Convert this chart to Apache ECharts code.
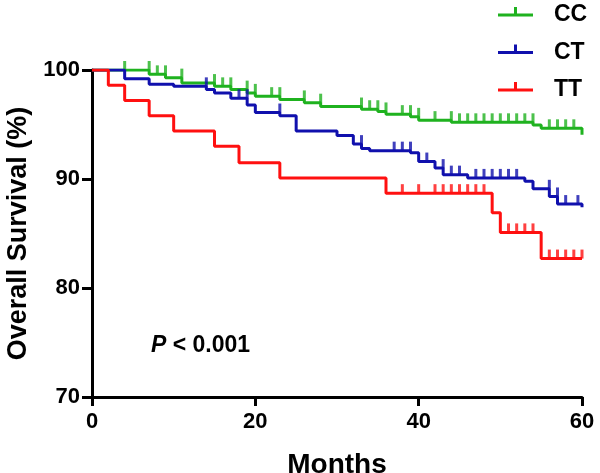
<!DOCTYPE html>
<html>
<head>
<meta charset="utf-8">
<script src="https://cdn.jsdelivr.net/npm/echarts@6/dist/echarts.min.js"></script>
<style>
html,body{margin:0;padding:0;background:#fff;}
#chart{width:600px;height:473px;}
</style>
</head>
<body>
<div id="chart"></div>
<script>
// Kaplan-Meier step data: [month, survival %] after each event
var ccSteps = [[0,100],[7,99.6],[9,99.3],[11,98.8],[15,98.5],[17,98.2],[19,97.9],[20,97.6],[23,97.3],[26,97.0],[28,96.65],[33,96.4],[35,96.2],[36,95.95],[39,95.7],[40,95.4],[44,95.2],[54,94.95],[55,94.65],[60,94.05]];
var ctSteps = [[0,100],[4,99.2],[7,98.7],[10,98.5],[14,98.2],[15,97.9],[17,97.4],[19,96.8],[20,96.1],[23,95.8],[25,94.4],[30,94.0],[32,93.2],[33,92.8],[34,92.6],[39,92.4],[40,91.6],[42,91.0],[43,90.4],[46,90.1],[53,89.8],[54,89.1],[56,88.4],[57,87.7],[60,87.4]];
var ttSteps = [[0,100],[2,98.6],[4,97.2],[7,95.8],[10,94.4],[15,93.0],[18,91.5],[23,90.1],[36,88.7],[49,86.9],[50,85.1],[55,82.7],[60,82.7]];

// censoring times (months)
var ccCensor = [4,7,8,9,11,15,16,17,19,20,22,23,26,28,33,34,35,36,38,39,40,42,44,45,46,47,48,49,50,51,52,53,54,56,57,58,59];
var ctCensor = [14,18,19,23,33,37,38,39,41,43,44,45,47,48,49,50,51,52,56,57,58,59.5];
var ttCensor = [38,40,42,43,44,45,46,47,48,51,52,53,54,56,57,58,59,60];

var seriesNames = ['CC','CT','TT'];
var colors = ['#1fb21f','#1010ad','#ff1010'];
var xTicks = [0,20,40,60];
var yTicks = [70,80,90,100];

function valueAt(steps, t){
  var v = steps[0][1];
  for (var i=0;i<steps.length;i++){ if (steps[i][0] < t || (steps[i][0]===t && i===0)) v = steps[i][1]; }
  return v;
}
function censorPts(steps, times){ return times.map(function(t){ return [t, valueAt(steps, t)]; }); }

var allSteps = [ccSteps, ctSteps, ttSteps];
var allCensor = [ccCensor, ctCensor, ttCensor];
var FONT = 'Arial, "Liberation Sans", Helvetica, sans-serif';

var series = [];
for (var k=0;k<3;k++){
  series.push({
    name: seriesNames[k], type:'line', step:'end', data: allSteps[k],
    showSymbol:false, symbol:'none', z: 2+k*2,
    lineStyle:{color:colors[k], width:3}, itemStyle:{color:colors[k]},
    animation:false
  });
  series.push({
    name: seriesNames[k]+'_c', type:'scatter', data: censorPts(allSteps[k], allCensor[k]),
    symbol:'rect', symbolSize:[3,9], symbolOffset:[0,-4.5], z: 3+k*2,
    itemStyle:{color:colors[k]}, animation:false, silent:true
  });
}

// legend drawn as graphic elements
var legendGraphics = [];
for (var j=0;j<3;j++){
  var cy = 15 + 37.5*j;
  legendGraphics.push({type:'rect', shape:{x:498, y:cy-1.5, width:35, height:3}, style:{fill:colors[j]}});
  legendGraphics.push({type:'rect', shape:{x:514, y:cy-8, width:3, height:8}, style:{fill:colors[j]}});
  legendGraphics.push({type:'text', x:554, y:cy, style:{text:seriesNames[j], font:'bold 23px ' + FONT, fill:'#000', verticalAlign:'middle', align:'left'}});
}

var chart = echarts.init(document.getElementById('chart'), null, {renderer:'canvas'});
chart.setOption({
  backgroundColor:'#fff',
  animation:false,
  color: colors,
  grid:{left:92, right:18, top:70, bottom:76, containLabel:false, outerBoundsMode:'none'},
  xAxis:{
    type:'value', min:0, max:60, interval:20,
    name:'Months', nameLocation:'middle', nameGap:54,
    nameTextStyle:{fontFamily:FONT, fontWeight:'bold', fontSize:28, color:'#000'},
    axisLine:{show:true, onZero:false, lineStyle:{color:'#000', width:3}},
    axisTick:{show:true, length:9, lineStyle:{color:'#000', width:3}},
    axisLabel:{fontFamily:FONT, fontWeight:'bold', fontSize:22, color:'#000', margin:14,
      formatter:function(v){ return xTicks.indexOf(v)>=0 ? String(v) : ''; }},
    splitLine:{show:false}
  },
  yAxis:{
    type:'value', min:70, max:100, interval:10,
    name:'Overall Survival (%)', nameLocation:'middle', nameGap:58,
    nameTextStyle:{fontFamily:FONT, fontWeight:'bold', fontSize:27, color:'#000'},
    axisLine:{show:true, onZero:false, lineStyle:{color:'#000', width:3}},
    axisTick:{show:true, length:10, lineStyle:{color:'#000', width:3}},
    axisLabel:{fontFamily:FONT, fontWeight:'bold', fontSize:22, color:'#000', margin:12,
      formatter:function(v){ return yTicks.indexOf(v)>=0 ? String(v) : ''; }},
    splitLine:{show:false}
  },
  graphic: legendGraphics.concat([{
    type:'text', left:151, top:334,
    style:{
      text:'{i|P} < 0.001',
      rich:{ i:{fontStyle:'italic', fontWeight:'bold', fontSize:23, fontFamily:FONT, fill:'#000'} },
      font:'bold 23px ' + FONT, fill:'#000'
    }
  }]),
  series: series
});
</script>
</body>
</html>
